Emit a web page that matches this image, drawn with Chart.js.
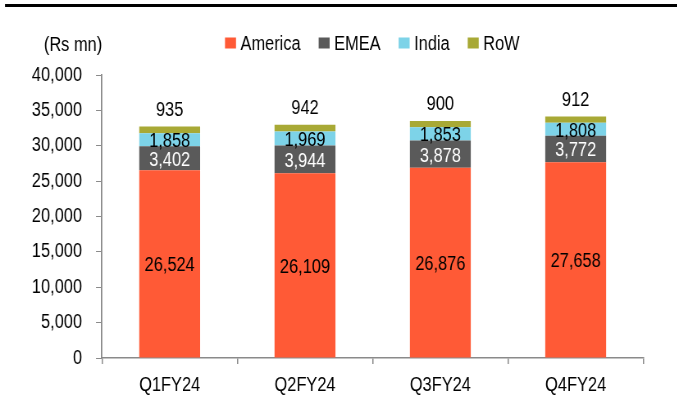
<!DOCTYPE html>
<html>
<head>
<meta charset="utf-8">
<script src="https://cdn.jsdelivr.net/npm/chart.js@4.4.1/dist/chart.umd.min.js"></script>
<style>
  html, body { margin: 0; padding: 0; background: #fff; overflow: hidden; }
  #wrap { width: 677px; height: 398px; position: relative; overflow: hidden; }
  /* condensed look: draw wide, then narrow horizontally */
  #c { position: absolute; left: 0; top: 0; transform-origin: 0 0; }
</style>
</head>
<body>
<div id="wrap"><canvas id="c"></canvas></div>
<script>
// Quarterly revenue by geography (Rs mn)
const quarters = ['Q1FY24', 'Q2FY24', 'Q3FY24', 'Q4FY24'];
const america = [26524, 26109, 26876, 27658];
const emea    = [3402, 3944, 3878, 3772];
const india   = [1858, 1969, 1853, 1808];
const row     = [935, 942, 900, 912];
const yTicks  = [0, 5000, 10000, 15000, 20000, 25000, 30000, 35000, 40000];

const seriesNames  = ['America', 'EMEA', 'India', 'RoW'];
const seriesColors = ['#FF5A36', '#5A5A5A', '#7DD3E8', '#A8A935'];
const labelColors  = ['#000000', '#FFFFFF', '#000000', '#000000'];

const FONT = '"Liberation Sans", Arial, sans-serif';
const FS = 20;
const AXIS = '#8A8A8A';

// horizontal condensing factor applied to the whole canvas
const K = 0.82;
const W = Math.round(677 / K);
const H = 398;
const sx = v => v / K;

const canvas = document.getElementById('c');
canvas.width = W;
canvas.height = H;
canvas.style.width = W + 'px';
canvas.style.height = H + 'px';
canvas.style.transform = 'scaleX(' + K + ')';

const fmt = v => v.toLocaleString('en-US');

// Value labels: centred in each segment, the last series sits above the stack
const valueLabels = {
  id: 'valueLabels',
  afterDatasetsDraw(chart) {
    const ctx = chart.ctx;
    ctx.save();
    ctx.font = FS + 'px ' + FONT;
    ctx.textAlign = 'center';
    ctx.textBaseline = 'middle';
    chart.data.datasets.forEach((ds, i) => {
      const meta = chart.getDatasetMeta(i);
      meta.data.forEach((bar, j) => {
        const v = ds.data[j];
        ctx.fillStyle = labelColors[i];
        if (i === chart.data.datasets.length - 1) {
          ctx.fillText(fmt(v), bar.x, bar.y - 16);
        } else {
          ctx.fillText(fmt(v), bar.x, (bar.y + bar.base) / 2 + 2);
        }
      });
    });
    ctx.restore();
  }
};

// Header: top rule, unit caption and the series key
const header = {
  id: 'header',
  afterDraw(chart) {
    const ctx = chart.ctx;
    ctx.save();
    ctx.fillStyle = '#000';
    ctx.fillRect(sx(5), 4, W, 3);

    ctx.font = FS + 'px ' + FONT;
    ctx.textBaseline = 'middle';
    ctx.textAlign = 'center';
    ctx.fillText('(Rs mn)', sx(73), 45);

    ctx.textAlign = 'left';
    let x = sx(225);
    const cy = 43;
    chart.data.datasets.forEach(ds => {
      ctx.fillStyle = ds.backgroundColor;
      ctx.fillRect(x, cy - 5.5, sx(11), 11);
      x += sx(15.5);
      ctx.fillStyle = '#000';
      ctx.fillText(ds.label, x, cy + 1);
      x += ctx.measureText(ds.label).width + sx(18);
    });
    ctx.restore();
  }
};

const seriesData = [america, emea, india, row];

new Chart(canvas, {
  type: 'bar',
  data: {
    labels: quarters,
    datasets: seriesNames.map((name, i) => ({
      label: name,
      data: seriesData[i],
      backgroundColor: seriesColors[i],
      borderWidth: 0,
      categoryPercentage: 1,
      barPercentage: 0.45
    }))
  },
  options: {
    responsive: false,
    animation: false,
    devicePixelRatio: 1,
    layout: { padding: { top: 75, right: sx(34), bottom: 0, left: 0 } },
    plugins: {
      legend: { display: false },
      tooltip: { enabled: false }
    },
    scales: {
      x: {
        stacked: true,
        offset: true,
        grid: {
          offset: true,
          drawOnChartArea: false,
          drawTicks: true,
          tickLength: 6,
          color: AXIS,
          lineWidth: 1.5
        },
        border: { color: AXIS, width: 1.5 },
        ticks: {
          color: '#000',
          font: { family: FONT, size: FS },
          padding: 9
        },
        afterFit(scale) { scale.height = 40; }
      },
      y: {
        stacked: true,
        min: 0,
        max: 40000,
        afterBuildTicks(scale) { scale.ticks = yTicks.map(v => ({ value: v })); },
        grid: {
          drawOnChartArea: false,
          drawTicks: true,
          tickLength: sx(6),
          color: AXIS
        },
        border: { color: AXIS, width: 1.8 },
        ticks: {
          color: '#000',
          font: { family: FONT, size: FS },
          padding: sx(14),
          callback: v => fmt(v)
        },
        afterFit(scale) { scale.width = sx(102); }
      }
    }
  },
  plugins: [valueLabels, header]
});
</script>
</body>
</html>
